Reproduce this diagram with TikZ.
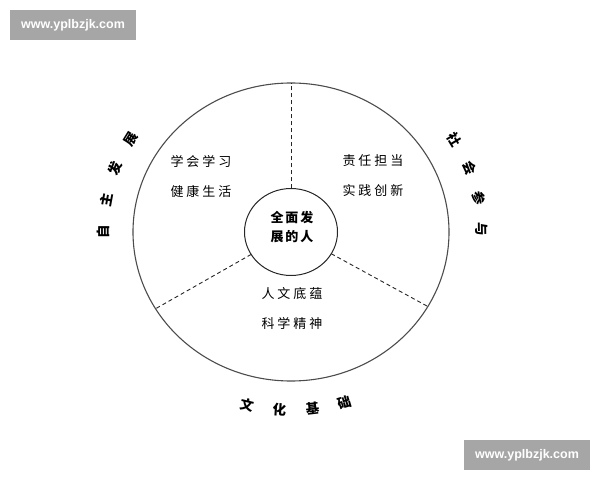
\documentclass[tikz,border=0pt]{standalone}
\usepackage{fontspec}
\setmainfont{Liberation Sans}
\newfontfamily\cjk{Noto Sans CJK SC}
\newcommand{\gp}{\hspace{3pt}}
\tikzset{
  ring/.style={draw=black!70, line width=1.1pt},
  spoke/.style={draw=black!85, line width=0.9pt, dash pattern=on 4pt off 3pt},
  quad/.style={font=\fontsize{13}{30}\selectfont\cjk, align=center, inner sep=0pt},
  hubtext/.style={font=\fontsize{13}{19}\selectfont\cjk\bfseries, align=center, inner sep=0pt},
  rim/.style={font=\fontsize{13.5}{13.5}\selectfont\cjk\bfseries, inner sep=0pt},
  wmark/.style={fill=black!35, text=white, font=\fontsize{12.5}{12.5}\selectfont\bfseries,
    minimum width=126pt, minimum height=30pt, inner sep=0pt}
}
\begin{document}
\begin{tikzpicture}[x=1pt, y=1pt]
        \useasboundingbox (0,0) rectangle (600,480);
        \coordinate (C) at (291,248);

        % rings
        \draw[ring] (C) ellipse [x radius=158pt, y radius=149pt];
        \draw[ring, line width=1pt, draw=black!85] (C) ellipse [x radius=46.5pt, y radius=43.5pt];

        % spokes
        \foreach \a [count=\i] in {90,211,330} {
            \coordinate (in\i) at ({291+46.5*cos(\a)},{248+43.5*sin(\a)});
            \coordinate (out\i) at ({291+158*cos(\a)},{248+149*sin(\a)});
            \draw[spoke] (in\i) -- (out\i);
        }

        \node[hubtext] (hub) at (292,252.5) {全\hspace{2pt}面\hspace{2pt}发\\展\hspace{2pt}的\hspace{2pt}人};

        \node[quad] (self) at (201,303) {学\gp 会\gp 学\gp 习\\健\gp 康\gp 生\gp 活};
        \node[quad] (soc) at (373,304) {责\gp 任\gp 担\gp 当\\实\gp 践\gp 创\gp 新};
        \node[quad] (cul) at (292,171) {人\gp 文\gp 底\gp 蕴\\科\gp 学\gp 精\gp 神};

        % labels round the ring
        \foreach \ch/\a [count=\i] in {自/180,主/169.5,发/159,展/148.5}
            \node[rim, rotate=\a-90] (l\i) at ({291+188*cos(\a)},{248+177*sin(\a)}) {\ch};
        \foreach \ch/\a [count=\i] in {社/31,会/21,参/11,与/1}
            \node[rim, rotate=\a-90] (r\i) at ({291+191*cos(\a)},{248+180*sin(\a)}) {\ch};
        \foreach \ch/\a [count=\i] in {文/256.5,化/266.5,基/276.5,础/286.5}
            \node[rim, rotate=\a+90] (b\i) at ({291+189*cos(\a)},{248+178*sin(\a)}) {\ch};

        \node[wmark] (wm1) at (73,455) {www.yplbzjk.com};
        \node[wmark] (wm2) at (527,25) {www.yplbzjk.com};
    \end{tikzpicture}
\end{document}
